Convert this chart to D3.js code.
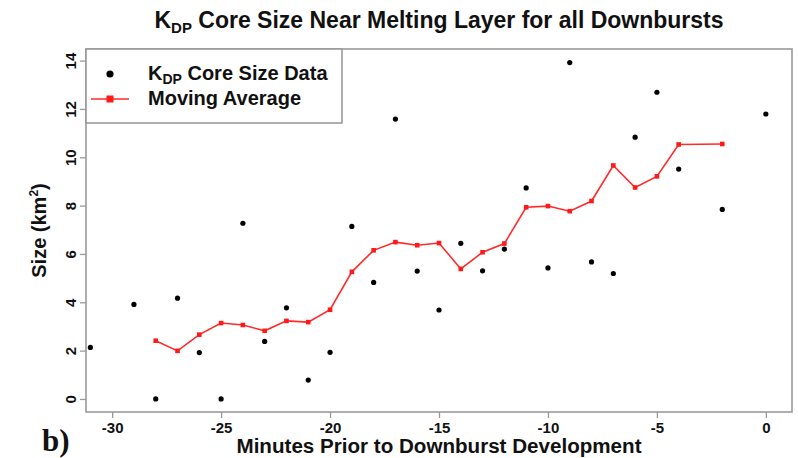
<!DOCTYPE html>
<html>
<head>
<meta charset="utf-8">
<script src="https://cdn.jsdelivr.net/npm/d3@7/dist/d3.min.js"></script>
<style>
  html, body { margin: 0; padding: 0; background: #fff; }
  svg { display: block; }
  text { font-family: "Liberation Sans", Arial, Helvetica, sans-serif; font-weight: bold; }
</style>
</head>
<body>
<svg id="chart" width="798" height="458"></svg>
<script>
// KDP core size observations (minutes before downburst, km^2)
const obsMinutes = [-31, -29, -28, -27, -26, -25, -24, -23, -22, -21, -20, -19, -18, -17, -16, -15,
                    -14, -13, -12, -11, -10, -9, -8, -7, -6, -5, -4, -2, 0];
const obsSize    = [2.13, 3.91, 0, 4.17, 1.92, 0, 7.27, 2.38, 3.77, 0.78, 1.93, 7.14, 4.82, 11.58, 5.29, 3.68,
                    6.44, 5.30, 6.20, 8.73, 5.42, 13.92, 5.67, 5.19, 10.83, 12.69, 9.51, 7.84, 11.79];

// Moving average of the core size
const avgMinutes = [-28, -27, -26, -25, -24, -23, -22, -21, -20, -19, -18, -17, -16, -15,
                    -14, -13, -12, -11, -10, -9, -8, -7, -6, -5, -4, -2];
const avgSize    = [2.41, 1.99, 2.66, 3.14, 3.06, 2.82, 3.23, 3.18, 3.69, 5.26, 6.15, 6.49, 6.36, 6.45,
                    5.38, 6.07, 6.43, 7.93, 7.98, 7.77, 8.19, 9.66, 8.75, 9.21, 10.53, 10.55];

const xTicks = [-30, -25, -20, -15, -10, -5, 0];
const yTicks = [0, 2, 4, 6, 8, 10, 12, 14];

const svg = d3.select("#chart");
const frame = { left: 86, right: 792, top: 49, bottom: 412 };
const gray = "#9a9a9a";

const x = d3.scaleLinear().domain([-31.2, 1.2]).range([frame.left, frame.right]);
const y = d3.scaleLinear().domain([-0.54, 14.48]).range([frame.bottom, frame.top]);

// Plain hyphen-minus labels
const plainFormat = d => String(d);

// Title
const title = svg.append("text")
  .attr("x", (frame.left + frame.right) / 2)
  .attr("y", 28)
  .attr("text-anchor", "middle")
  .style("font-size", "23px")
  .attr("fill", "#111");
title.append("tspan").text("K");
title.append("tspan").attr("dy", 5).style("font-size", "15px").text("DP");
title.append("tspan").attr("dy", -5).text(" Core Size Near Melting Layer for all Downbursts");

// Axes
const xAxis = svg.append("g")
  .attr("transform", `translate(0,${frame.bottom})`)
  .call(d3.axisBottom(x).tickValues(xTicks).tickSize(6).tickPadding(4).tickFormat(plainFormat));
const yAxis = svg.append("g")
  .attr("transform", `translate(${frame.left},0)`)
  .call(d3.axisLeft(y).tickValues(yTicks).tickSize(6).tickFormat(plainFormat));

[xAxis, yAxis].forEach(g => {
  g.select(".domain").remove();
  g.selectAll(".tick line").attr("stroke", gray).attr("stroke-width", 1.3);
  g.selectAll(".tick text").attr("fill", "#111").style("font-size", "15px")
    .style("font-family", "\"Liberation Sans\", Arial, sans-serif").style("font-weight", "bold");
});
xAxis.selectAll(".tick text").attr("dy", "0.71em");
yAxis.selectAll(".tick text")
  .attr("x", null).attr("dy", null)
  .attr("text-anchor", "middle")
  .attr("transform", "translate(-10,0) rotate(-90)");

// Plot frame
svg.append("rect")
  .attr("x", frame.left).attr("y", frame.top)
  .attr("width", frame.right - frame.left).attr("height", frame.bottom - frame.top)
  .attr("fill", "none").attr("stroke", gray).attr("stroke-width", 1.6);

// Axis titles
svg.append("text")
  .attr("x", (frame.left + frame.right) / 2)
  .attr("y", 453)
  .attr("text-anchor", "middle")
  .style("font-size", "20px")
  .attr("textLength", 405).attr("lengthAdjust", "spacingAndGlyphs")
  .attr("fill", "#111")
  .text("Minutes Prior to Downburst Development");

const yTitle = svg.append("text")
  .attr("transform", `translate(46,${(frame.top + frame.bottom) / 2}) rotate(-90)`)
  .attr("text-anchor", "middle")
  .style("font-size", "20px")
  .attr("fill", "#111");
yTitle.append("tspan").text("Size (km");
yTitle.append("tspan").attr("dy", -8).style("font-size", "12px").text("2");
yTitle.append("tspan").attr("dy", 8).text(")");

// Panel letter
svg.append("text")
  .attr("x", 42).attr("y", 451)
  .style("font-family", "\"Liberation Serif\", \"Times New Roman\", serif")
  .style("font-size", "31px")
  .attr("fill", "#111")
  .text("b)");

// Observations
svg.append("g").selectAll("circle")
  .data(obsMinutes.map((m, i) => [m, obsSize[i]]))
  .join("circle")
  .attr("cx", d => x(d[0])).attr("cy", d => y(d[1]))
  .attr("r", 2.6).attr("fill", "#000");

// Moving average line with square markers
const avgPts = avgMinutes.map((m, i) => [m, avgSize[i]]);
svg.append("path")
  .datum(avgPts)
  .attr("d", d3.line().x(d => x(d[0])).y(d => y(d[1])))
  .attr("fill", "none").attr("stroke", "#ff2a2a").attr("stroke-width", 1.6);
svg.append("g").selectAll("rect")
  .data(avgPts)
  .join("rect")
  .attr("x", d => x(d[0]) - 2.3).attr("y", d => y(d[1]) - 2.3)
  .attr("width", 4.6).attr("height", 4.6)
  .attr("fill", "#ff1a1a");

// Legend
const lg = svg.append("g");
lg.append("rect")
  .attr("x", frame.left).attr("y", frame.top)
  .attr("width", 256).attr("height", 74)
  .attr("fill", "#fff").attr("stroke", gray).attr("stroke-width", 1.6);
lg.append("circle").attr("cx", 110).attr("cy", 74).attr("r", 3.6).attr("fill", "#000");
const l1 = lg.append("text").attr("x", 148).attr("y", 80).style("font-size", "20px").attr("fill", "#111");
l1.append("tspan").text("K");
l1.append("tspan").attr("dy", 4).style("font-size", "14px").text("DP");
l1.append("tspan").attr("dy", -4).text(" Core Size Data");
lg.append("line").attr("x1", 91).attr("x2", 129).attr("y1", 99).attr("y2", 99)
  .attr("stroke", "#ff2a2a").attr("stroke-width", 1.6);
lg.append("rect").attr("x", 106.5).attr("y", 95.5).attr("width", 7).attr("height", 7).attr("fill", "#ff1a1a");
lg.append("text").attr("x", 148).attr("y", 105).style("font-size", "20px").attr("fill", "#111")
  .text("Moving Average");
</script>
</body>
</html>
